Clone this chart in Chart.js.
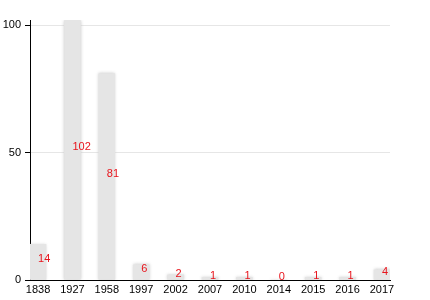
<!DOCTYPE html>
<html>
<head>
<meta charset="utf-8">
<script src="https://cdn.jsdelivr.net/npm/chart.js@4"></script>
<style>
  html, body { margin: 0; padding: 0; background: #fff; }
  #wrap { width: 430px; height: 300px; }
</style>
</head>
<body>
<div id="wrap"><canvas id="barChart"></canvas></div>
<script>
const years = ["1838", "1927", "1958", "1997", "2002", "2007", "2010", "2014", "2015", "2016", "2017"];
const counts = [14, 102, 81, 6, 2, 1, 1, 0, 1, 1, 4];
const yTicks = [0, 50, 100];

const FONT = "'Liberation Sans', Arial, sans-serif";

// label merah di tengah setiap batang
const valueLabels = {
  id: "valueLabels",
  afterDatasetsDraw(chart) {
    const c = chart.ctx;
    const meta = chart.getDatasetMeta(0);
    c.save();
    c.font = "11px " + FONT;
    c.fillStyle = "#e8141c";
    c.textAlign = "left";
    c.textBaseline = "middle";
    meta.data.forEach((bar, i) => {
      const mid = (bar.y + bar.base) / 2;
      c.fillText(String(counts[i]), bar.x, mid - 3);
    });
    c.restore();
  }
};

// bayangan lembut di tepi batang
const softBars = {
  id: "softBars",
  beforeDatasetsDraw(chart) {
    chart.ctx.save();
    chart.ctx.shadowColor = "rgba(200,200,200,0.9)";
    chart.ctx.shadowBlur = 3;
  },
  afterDatasetsDraw(chart) {
    chart.ctx.restore();
  }
};

const ctx = document.getElementById("barChart");
const barChart = new Chart(ctx, {
  type: "bar",
  data: {
    datasets: [{
      data: counts.map((v, i) => ({ x: i, y: v })),
      backgroundColor: "#e5e5e5",
      barThickness: 16
    }]
  },
  options: {
    responsive: true,
    maintainAspectRatio: false,
    animation: false,
    layout: { padding: { top: 20, right: 40, left: 0, bottom: 0 } },
    plugins: { legend: { display: false }, tooltip: { enabled: false } },
    scales: {
      x: {
        type: "linear",
        offset: false,
        min: -0.234,
        max: 10.234,
        afterBuildTicks: s => { s.ticks = years.map((_, i) => ({ value: i })); },
        afterFit: s => { s.height = 20; },
        grid: { display: false, drawTicks: false, tickLength: 0 },
        border: { display: true, color: "#000", width: 1 },
        ticks: {
          autoSkip: false,
          maxRotation: 0,
          padding: 3,
          color: "#000",
          font: { family: FONT, size: 11 },
          callback: v => years[v]
        }
      },
      y: {
        min: 0,
        max: 102,
        afterBuildTicks: s => { s.ticks = yTicks.map(v => ({ value: v })); },
        afterFit: s => { s.width = 30; },
        grid: { color: "#e6e6e6", tickColor: "#000", tickLength: 5 },
        border: { display: true, color: "#000", width: 1 },
        ticks: {
          padding: 4,
          color: "#000",
          font: { family: FONT, size: 11 }
        }
      }
    }
  },
  plugins: [softBars, valueLabels]
});
</script>
</body>
</html>
